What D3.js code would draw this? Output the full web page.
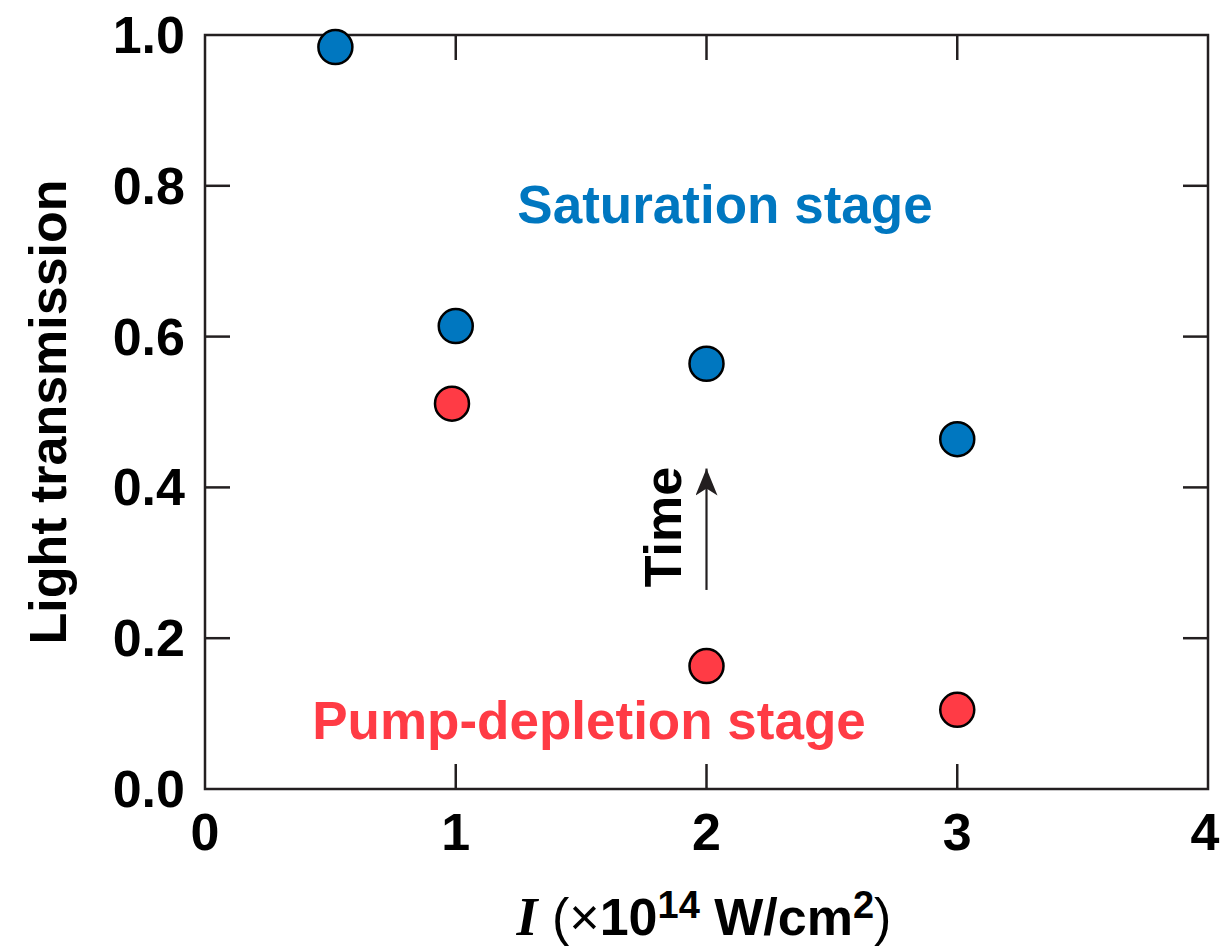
<!DOCTYPE html>
<html>
<head>
<meta charset="utf-8">
<script src="https://cdn.jsdelivr.net/npm/d3@7"></script>
<style>
  html, body { margin: 0; padding: 0; background: #fff; }
  svg { display: block; }
  text { font-family: "Liberation Sans", Arial, Helvetica, sans-serif; }
</style>
</head>
<body>
<script>
// Light transmission vs laser intensity, two stages
const saturationX = [0.52, 1.0, 2.0, 3.0];
const saturationY = [0.984, 0.614, 0.564, 0.464];
const depletionX = [0.985, 2.0, 3.0];
const depletionY = [0.511, 0.163, 0.105];
const xTicks = [0, 1, 2, 3, 4];
const yTicks = [0.0, 0.2, 0.4, 0.6, 0.8, 1.0];

const W = 1220, H = 947;
const margin = { left: 205, right: 12, top: 35, bottom: 158 };
const svg = d3.select("body").append("svg").attr("width", W).attr("height", H);

const x = d3.scaleLinear().domain([0, 4]).range([margin.left, W - margin.right]);
const y = d3.scaleLinear().domain([0, 1]).range([H - margin.bottom, margin.top]);

const tickLen = 25;
const axisColor = "#231f20";
const fs = 52;

// Frame
svg.append("rect")
  .attr("x", x(0)).attr("y", y(1))
  .attr("width", x(4) - x(0)).attr("height", y(0) - y(1))
  .attr("fill", "none").attr("stroke", axisColor).attr("stroke-width", 2.5);

// Inward ticks on all four sides
const inner = xTicks.slice(1, -1);
const innerY = yTicks.slice(1, -1);
const tickG = svg.append("g").attr("stroke", axisColor).attr("stroke-width", 2.5);
inner.forEach(v => {
  tickG.append("line").attr("x1", x(v)).attr("x2", x(v)).attr("y1", y(0)).attr("y2", y(0) - tickLen);
  tickG.append("line").attr("x1", x(v)).attr("x2", x(v)).attr("y1", y(1)).attr("y2", y(1) + tickLen);
});
innerY.forEach(v => {
  tickG.append("line").attr("x1", x(0)).attr("x2", x(0) + tickLen).attr("y1", y(v)).attr("y2", y(v));
  tickG.append("line").attr("x1", x(4)).attr("x2", x(4) - tickLen).attr("y1", y(v)).attr("y2", y(v));
});

// Tick labels (the last one is kept inside the page edge)
svg.append("g").selectAll("text").data(xTicks).join("text")
  .attr("x", d => Math.min(x(d), W - 15)).attr("y", y(0) + 61)
  .attr("text-anchor", "middle")
  .attr("font-size", fs).attr("font-weight", "bold").attr("fill", "#000")
  .text(d => d3.format("d")(d));

svg.append("g").selectAll("text").data(yTicks).join("text")
  .attr("x", x(0) - 20).attr("y", d => y(d) + 18)
  .attr("text-anchor", "end")
  .attr("font-size", fs).attr("font-weight", "bold").attr("fill", "#000")
  .text(d => d3.format(".1f")(d));

// Y axis title
svg.append("text")
  .attr("transform", `translate(66, 412) rotate(-90)`)
  .attr("text-anchor", "middle")
  .attr("font-size", fs).attr("font-weight", "bold").attr("fill", "#000")
  .text("Light transmission");

// X axis title
const xt = svg.append("text")
  .attr("x", 704).attr("y", 935)
  .attr("text-anchor", "middle")
  .attr("font-size", fs).attr("fill", "#000");
xt.append("tspan").attr("font-family", "'Liberation Serif', 'Times New Roman', serif")
  .attr("font-style", "italic").attr("font-weight", "bold").attr("font-size", 54).text("I");
xt.append("tspan").text(" (\u00d7");
xt.append("tspan").attr("font-weight", "bold").text("10");
xt.append("tspan").attr("font-weight", "bold").attr("font-size", 38).attr("dy", -17).text("14");
xt.append("tspan").attr("font-weight", "bold").attr("dy", 17).text(" W/cm");
xt.append("tspan").attr("font-weight", "bold").attr("font-size", 38).attr("dy", -17).text("2");
xt.append("tspan").attr("dy", 17).text(")");

// Stage labels
svg.append("text")
  .attr("x", 725).attr("y", 223)
  .attr("text-anchor", "middle")
  .attr("font-size", 53).attr("font-weight", "bold").attr("fill", "#0077c0")
  .text("Saturation stage");
svg.append("text")
  .attr("x", 589).attr("y", 739)
  .attr("text-anchor", "middle")
  .attr("font-size", 53).attr("font-weight", "bold").attr("fill", "#ff3b45")
  .text("Pump-depletion stage");

// Time arrow
svg.append("defs").append("marker")
  .attr("id", "arrowhead").attr("viewBox", "0 0 27 22")
  .attr("refX", 27).attr("refY", 11)
  .attr("markerWidth", 27).attr("markerHeight", 22)
  .attr("markerUnits", "userSpaceOnUse")
  .attr("orient", "auto")
  .append("path").attr("d", "M0,0 L27,11 L0,22 L7,11 Z").attr("fill", "#231f20");
svg.append("line")
  .attr("x1", x(2)).attr("x2", x(2))
  .attr("y1", y(0.264)).attr("y2", y(0.425))
  .attr("stroke", "#231f20").attr("stroke-width", 2.2)
  .attr("marker-end", "url(#arrowhead)");
svg.append("text")
  .attr("transform", `translate(681, 527) rotate(-90)`)
  .attr("text-anchor", "middle")
  .attr("font-size", fs).attr("font-weight", "bold").attr("fill", "#000")
  .text("Time");

// Data points
const r = 17;
svg.append("g").selectAll("circle").data(depletionX.map((v, i) => [v, depletionY[i]])).join("circle")
  .attr("cx", d => x(d[0])).attr("cy", d => y(d[1])).attr("r", r)
  .attr("fill", "#ff3b45").attr("stroke", "#000").attr("stroke-width", 2.5);
svg.append("g").selectAll("circle").data(saturationX.map((v, i) => [v, saturationY[i]])).join("circle")
  .attr("cx", d => x(d[0])).attr("cy", d => y(d[1])).attr("r", r)
  .attr("fill", "#0077c0").attr("stroke", "#000").attr("stroke-width", 2.5);
</script>
</body>
</html>
